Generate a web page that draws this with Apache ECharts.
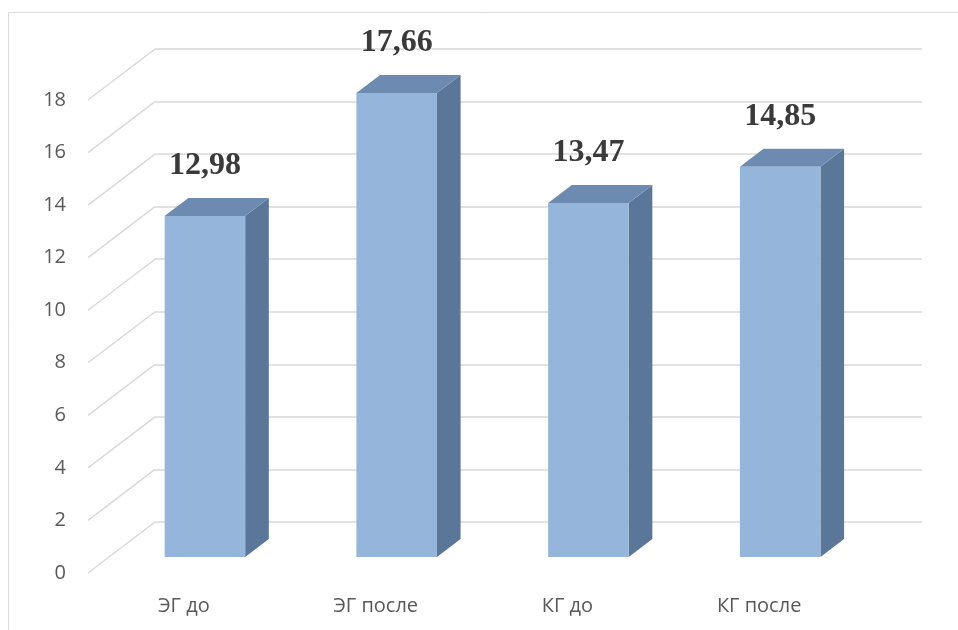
<!DOCTYPE html>
<html>
<head>
<meta charset="utf-8">
<script src="https://cdn.jsdelivr.net/npm/echarts@6/dist/echarts.min.js"></script>
<style>
  html, body { margin: 0; padding: 0; background: #fff; }
  #chart { width: 958px; height: 630px; }
</style>
</head>
<body>
<div id="chart"></div>
<script>
// данные
const categories = ["ЭГ до", "ЭГ после", "КГ до", "КГ после"];
const values = [12.98, 17.66, 13.47, 14.85];
const valueLabels = ["12,98", "17,66", "13,47", "14,85"];
const yTicks = [0, 2, 4, 6, 8, 10, 12, 14, 16, 18];

// 3D depth: offset from back wall to front edge of floor
const DX = -67, DY = 51;
const BAR_FRONT = 0.686; // depth fraction of bar front face
const BAR_BACK = 0.333;  // depth fraction of bar back face

const chart = echarts.init(document.getElementById("chart"));

function shift(p, d) {
  return [p[0] + DX * d, p[1] + DY * d];
}

chart.setOption({
  animation: false,
  graphic: [
    {
      type: "rect",
      shape: { x: 8.5, y: 12.5, width: 960, height: 640 },
      style: { fill: "none", stroke: "#d9d9d9", lineWidth: 1 },
      silent: true,
    },
  ],
  grid: [
    // back wall
    { left: 155, right: 36, top: 49, bottom: 108 },
    // front plane (for axis labels)
    { left: 155 + DX, right: 36 - DX, top: 49 + DY, bottom: 108 - DY },
  ],
  xAxis: [
    {
      gridIndex: 0,
      type: "category",
      data: categories,
      axisLine: { show: false },
      axisTick: { show: false },
      axisLabel: { show: false },
    },
    {
      gridIndex: 1,
      type: "category",
      data: categories,
      axisLine: { show: false },
      axisTick: { show: false },
      axisLabel: {
        margin: 23,
        fontFamily: "Open Sans",
        fontSize: 20,
        color: "#595959",
      },
    },
  ],
  yAxis: [
    {
      gridIndex: 0,
      type: "value",
      min: 0,
      max: 18,
      interval: 2,
      axisLine: { show: false },
      axisTick: { show: false },
      axisLabel: { show: false },
      splitLine: { lineStyle: { color: "#d9d9d9", width: 1.5 } },
    },
    {
      gridIndex: 1,
      type: "value",
      min: 0,
      max: 18,
      interval: 2,
      axisLine: { show: false },
      axisTick: { show: false },
      splitLine: { show: false },
      axisLabel: {
        margin: 22,
        fontFamily: "Open Sans",
        fontSize: 20,
        color: "#595959",
      },
    },
  ],
  series: [
    {
      // diagonal side-wall lines
      type: "custom",
      xAxisIndex: 0,
      yAxisIndex: 0,
      silent: true,
      data: yTicks.map((v) => [0, v]),
      renderItem: function (params, api) {
        const y = api.coord([0, api.value(1)])[1];
        const back = [params.coordSys.x, y];
        const front = shift(back, 1);
        return {
          type: "line",
          shape: { x1: front[0], y1: front[1], x2: back[0], y2: back[1] },
          style: { stroke: "#d9d9d9", lineWidth: 1.5 },
        };
      },
    },
    {
      // 3D bars
      type: "custom",
      xAxisIndex: 0,
      yAxisIndex: 0,
      silent: true,
      data: values.map((v, i) => [i, v]),
      renderItem: function (params, api) {
        const i = api.value(0);
        const top = api.coord([i, api.value(1)]);
        const base = api.coord([i, 0]);
        const half = api.size([1, 0])[0] * 0.21;

        const fTL = shift([top[0] - half, top[1]], BAR_FRONT);
        const fTR = shift([top[0] + half, top[1]], BAR_FRONT);
        const fBR = shift([base[0] + half, base[1]], BAR_FRONT);
        const fBL = shift([base[0] - half, base[1]], BAR_FRONT);
        const bTL = shift([top[0] - half, top[1]], BAR_BACK);
        const bTR = shift([top[0] + half, top[1]], BAR_BACK);
        const bBR = shift([base[0] + half, base[1]], BAR_BACK);

        return {
          type: "group",
          children: [
            {
              type: "polygon",
              shape: { points: [fTR, bTR, bBR, fBR] },
              style: { fill: "#5a7698" },
            },
            {
              type: "polygon",
              shape: { points: [fTL, fTR, bTR, bTL] },
              style: { fill: "#6d8bb0" },
            },
            {
              type: "polygon",
              shape: { points: [fTL, fTR, fBR, fBL] },
              style: { fill: "#96b5da" },
            },
            {
              type: "text",
              style: {
                x: (fTL[0] + fTR[0]) / 2,
                y: fTL[1] - 50,
                text: valueLabels[params.dataIndex],
                align: "center",
                verticalAlign: "middle",
                font: "bold 32px 'Liberation Serif'",
                fill: "#3a3a3a",
              },
            },
          ],
        };
      },
    },
  ],
});
</script>
</body>
</html>
